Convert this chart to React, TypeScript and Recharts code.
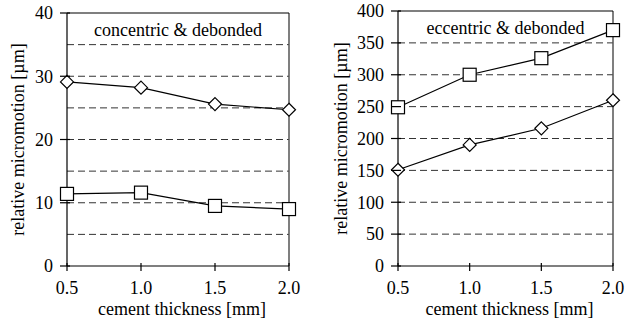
import { Line, LineChart, ReferenceLine, XAxis, YAxis } from "recharts";

const thickness = [0.5, 1.0, 1.5, 2.0];

const concentricDiamond = [29.1, 28.2, 25.6, 24.7];
const concentricSquare = [11.4, 11.6, 9.5, 9.0];
const eccentricSquare = [249, 300, 326, 370];
const eccentricDiamond = [151, 190, 216, 260];

const concentricTicks = [0, 10, 20, 30, 40];
const concentricGrid = [5, 10, 15, 20, 25, 30, 35];
const eccentricTicks = [0, 50, 100, 150, 200, 250, 300, 350, 400];
const eccentricGrid = [50, 100, 150, 200, 250, 300, 350];

const FONT = "'Liberation Serif', 'Times New Roman', serif";
const FS = 18;

const concentricData = thickness.map((t, i) => ({
  t,
  diamond: concentricDiamond[i],
  square: concentricSquare[i],
}));

const eccentricData = thickness.map((t, i) => ({
  t,
  diamond: eccentricDiamond[i],
  square: eccentricSquare[i],
}));

const DiamondDot = (props: any) => {
  const { cx, cy, index } = props;
  if (cx == null || cy == null) return null;
  const r = 6.5;
  return (
    <path
      key={`d-${index}`}
      d={`M${cx},${cy - r}L${cx + r},${cy}L${cx},${cy + r}L${cx - r},${cy}Z`}
      fill="#fff"
      stroke="#000"
      strokeWidth={1.2}
    />
  );
};

const SquareDot = (props: any) => {
  const { cx, cy, index } = props;
  if (cx == null || cy == null) return null;
  const h = 6.5;
  return (
    <rect
      key={`s-${index}`}
      x={cx - h}
      y={cy - h}
      width={h * 2}
      height={h * 2}
      fill="#fff"
      stroke="#000"
      strokeWidth={1.2}
    />
  );
};

const YTick = (props: any) => {
  const { x, y, payload } = props;
  return (
    <g>
      <line x1={x - 7} x2={x + 3} y1={y} y2={y} stroke="#000" strokeWidth={1.2} />
      <text x={x - 14} y={y} dy="0.35em" textAnchor="end" fontFamily={FONT} fontSize={FS} fill="#000">
        {payload.value}
      </text>
    </g>
  );
};

const XTick = (props: any) => {
  const { x, y, payload } = props;
  return (
    <g>
      <line x1={x} x2={x} y1={y - 3} y2={y + 5} stroke="#000" strokeWidth={1.2} />
      <text x={x} y={y + 28} textAnchor="middle" fontFamily={FONT} fontSize={FS} fill="#000">
        {Number(payload.value).toFixed(1)}
      </text>
    </g>
  );
};

type PanelProps = {
  data: { t: number; diamond: number; square: number }[];
  ticks: number[];
  grid: number[];
  title: string;
  yAxisWidth: number;
  yLabelX: number;
  marginRight: number;
  marginTop: number;
};

function Panel({ data, ticks, grid, title, yAxisWidth, yLabelX, marginRight, marginTop }: PanelProps) {
  const yMax = ticks[ticks.length - 1];
  return (
    <LineChart width={313} height={324} data={data} margin={{ top: marginTop, right: marginRight, bottom: 0, left: 0 }}>
      {grid.map((v) => (
        <ReferenceLine key={v} y={v} stroke="#333" strokeWidth={1} strokeDasharray="7 4" />
      ))}
      <ReferenceLine x={thickness[thickness.length - 1]} stroke="#555" strokeWidth={1.5} />
      <ReferenceLine
        y={yMax}
        stroke="#000"
        strokeWidth={1.2}
        label={(p: any) => {
          const vb = p.viewBox;
          return (
            <text x={vb.x + vb.width / 2} y={vb.y + 23} textAnchor="middle" fontFamily={FONT} fontSize={FS} fill="#000">
              {title}
            </text>
          );
        }}
      />
      <XAxis
        dataKey="t"
        type="number"
        domain={[thickness[0], thickness[thickness.length - 1]]}
        ticks={thickness}
        height={58}
        tickSize={0}
        tickMargin={0}
        tickLine={false}
        tick={<XTick />}
        axisLine={{ stroke: "#000", strokeWidth: 1.2 }}
        label={(p: any) => {
          const vb = p.viewBox;
          return (
            <text x={vb.x + vb.width / 2 + 4} y={vb.y + 49} textAnchor="middle" fontFamily={FONT} fontSize={FS} fill="#000">
              cement thickness [mm]
            </text>
          );
        }}
      />
      <YAxis
        type="number"
        domain={[0, yMax]}
        ticks={ticks}
        width={yAxisWidth}
        tickSize={0}
        tickMargin={0}
        tickLine={false}
        tick={<YTick />}
        axisLine={{ stroke: "#000", strokeWidth: 1.2 }}
        label={(p: any) => {
          const vb = p.viewBox;
          const cy = vb.y + vb.height / 2;
          return (
            <text
              x={yLabelX}
              y={cy}
              transform={`rotate(-90, ${yLabelX}, ${cy})`}
              textAnchor="middle"
              dominantBaseline="central"
              fontFamily={FONT}
              fontSize={FS}
              fill="#000"
            >
              relative micromotion [µm]
            </text>
          );
        }}
      />
      <Line dataKey="diamond" stroke="#000" strokeWidth={1.2} dot={DiamondDot} activeDot={false} isAnimationActive={false} />
      <Line dataKey="square" stroke="#000" strokeWidth={1.2} dot={SquareDot} activeDot={false} isAnimationActive={false} />
    </LineChart>
  );
}

export default function App() {
  return (
    <div style={{ position: "absolute", left: 0, top: 0, width: 626, height: 324, display: "flex", background: "#fff" }}>
      <Panel
        data={concentricData}
        ticks={concentricTicks}
        grid={concentricGrid}
        title="concentric & debonded"
        yAxisWidth={67}
        yLabelX={17.5}
        marginRight={24}
        marginTop={13}
      />
      <Panel
        data={eccentricData}
        ticks={eccentricTicks}
        grid={eccentricGrid}
        title="eccentric & debonded"
        yAxisWidth={85}
        yLabelX={27.5}
        marginRight={13}
        marginTop={11}
      />
    </div>
  );
}
